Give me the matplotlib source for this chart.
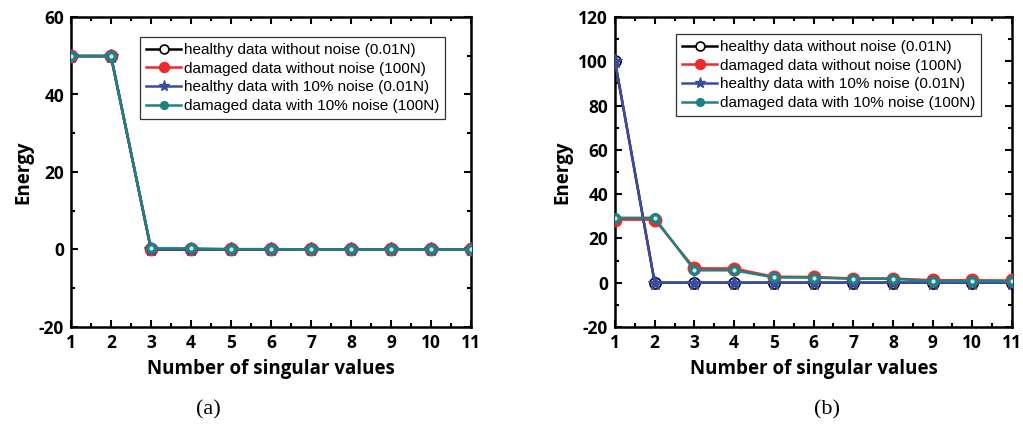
import numpy as np
import matplotlib
matplotlib.use('Agg')
import matplotlib.pyplot as plt
from matplotlib.ticker import MultipleLocator

plt.rcParams['axes.unicode_minus'] = False

# number of singular values
n_sv = [1, 2, 3, 4, 5, 6, 7, 8, 9, 10, 11]

# (a)
a_healthy = [49.9, 49.9, 0.0, 0.0, 0.0, 0.0, 0.0, 0.0, 0.0, 0.0, 0.0]
a_damaged = [49.9, 49.9, 0.1, 0.1, 0.0, 0.0, 0.0, 0.0, 0.0, 0.0, 0.0]
a_healthy_noise = [49.9, 49.9, 0.0, 0.0, 0.0, 0.0, 0.0, 0.0, 0.0, 0.0, 0.0]
a_damaged_noise = [50.0, 50.0, 0.3, 0.3, 0.1, 0.1, 0.0, 0.0, 0.0, 0.0, 0.0]

# (b)
b_healthy = [100.0, 0.0, 0.0, 0.0, 0.0, 0.0, 0.0, 0.0, 0.0, 0.0, 0.0]
b_damaged = [28.5, 28.5, 6.5, 6.4, 2.7, 2.6, 1.9, 1.9, 1.1, 1.1, 1.0]
b_healthy_noise = [100.0, 0.0, 0.0, 0.0, 0.0, 0.0, 0.0, 0.0, 0.0, 0.0, 0.0]
b_damaged_noise = [29.3, 29.3, 5.6, 5.6, 2.4, 2.3, 1.8, 1.8, 0.7, 0.7, 0.6]

labels = ['healthy data without noise (0.01N)',
          'damaged data without noise (100N)',
          'healthy data with 10% noise (0.01N)',
          'damaged data with 10% noise (100N)']

RED = '#ee2a2a'
BLUE = '#3a4ca0'
TEAL = '#1f8282'
TICK_FONT = 'Open Sans'
LEG_FONT = 'Liberation Sans'

fig = plt.figure(figsize=(10.23, 4.28), dpi=100)
ax_a = fig.add_axes([71 / 1023, 1 - 327 / 428, 400 / 1023, 310 / 428])
ax_b = fig.add_axes([615 / 1023, 1 - 327 / 428, 397 / 1023, 310 / 428])


def draw(ax, healthy, damaged, healthy_n, damaged_n, ylim, legend_anchor):
    ax.plot(n_sv, healthy, '-o', color='black', lw=1.8, ms=8,
            mfc='white', mec='black', mew=1.2, label=labels[0], zorder=3)
    ax.plot(n_sv, damaged, '-o', color=RED, lw=1.8, ms=9,
            mfc=RED, mec=RED, label=labels[1], zorder=4)
    ax.plot(n_sv, healthy_n, '-*', color=BLUE, lw=1.8, ms=10,
            mfc=BLUE, mec=BLUE, label=labels[2], zorder=5)
    ax.plot(n_sv, damaged_n, '-o', color=TEAL, lw=1.8, ms=7,
            mfc=TEAL, mec=TEAL, label=labels[3], zorder=6)
    ax.plot(n_sv, damaged_n, 'o', color='#cfe8e8', ms=2, zorder=7)

    ax.set_xlim(1, 11)
    ax.set_ylim(*ylim)
    ax.xaxis.set_major_locator(MultipleLocator(1))
    ax.xaxis.set_minor_locator(MultipleLocator(0.5))
    ax.yaxis.set_major_locator(MultipleLocator(20))
    ax.yaxis.set_minor_locator(MultipleLocator(10))
    ax.tick_params(which='both', direction='in', top=True, right=True,
                   labeltop=False, labelright=False, width=1.5)
    ax.tick_params(which='major', length=5, pad=5)
    ax.tick_params(which='minor', length=3)
    for sp in ax.spines.values():
        sp.set_linewidth(1.8)
    for t in ax.get_xticklabels() + ax.get_yticklabels():
        t.set_fontfamily(TICK_FONT)
        t.set_fontweight('bold')
        t.set_fontsize(12.5)
    ax.set_xlabel('Number of singular values', fontfamily=TICK_FONT,
                  fontweight='bold', fontsize=13.5, labelpad=5)
    ax.set_ylabel('Energy', fontfamily=TICK_FONT, fontweight='bold',
                  fontsize=13.5, labelpad=4)
    leg = ax.legend(loc='upper left', bbox_to_anchor=legend_anchor,
                    prop={'family': LEG_FONT, 'size': 11},
                    frameon=True, fancybox=False, edgecolor='black',
                    handlelength=2.3, handletextpad=0.15, borderpad=0.4,
                    labelspacing=0.3, borderaxespad=0, markerscale=0.8)
    leg.get_frame().set_linewidth(0.9)


draw(ax_a, a_healthy, a_damaged, a_healthy_noise, a_damaged_noise,
     (-20, 60), (69 / 400, 1 - 20 / 310))
draw(ax_b, b_healthy, b_damaged, b_healthy_noise, b_damaged_noise,
     (-20, 120), (61 / 397, 1 - 17 / 310))

fig.text(208 / 1023, 1 - 410 / 428, '(a)', ha='center', va='center',
         fontfamily='Liberation Serif', fontsize=16)
fig.text(827 / 1023, 1 - 410 / 428, '(b)', ha='center', va='center',
         fontfamily='Liberation Serif', fontsize=16)

plt.savefig('out.png', dpi=100)
plt.close()
